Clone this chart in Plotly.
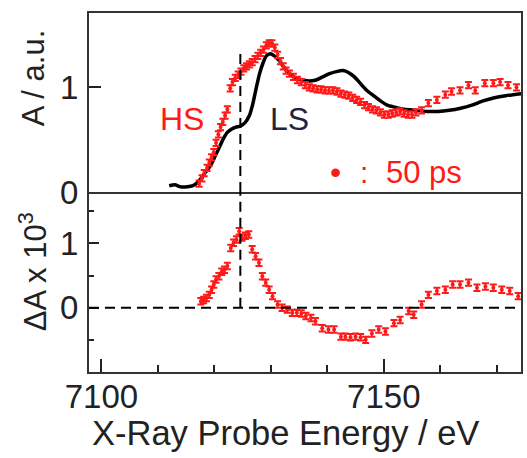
import plotly.graph_objects as go

# ---- LS reference spectrum (solid black line, top panel) ----
ls_energy = [7112.0, 7113.0, 7114.0, 7115.2, 7116.2, 7117.0, 7117.8, 7118.6, 7119.4,
             7120.2, 7120.9, 7121.6, 7122.3, 7123.0, 7123.8, 7124.6, 7125.4, 7126.2,
             7126.8, 7127.4, 7128.0, 7128.6, 7129.2, 7129.9, 7130.6, 7131.4, 7132.2,
             7133.2, 7134.4, 7135.6, 7136.8, 7138.0, 7139.2, 7140.4, 7141.6, 7142.8,
             7143.8, 7144.8, 7145.8, 7147.0, 7148.2, 7149.4, 7150.6, 7152.0, 7153.6,
             7155.6, 7157.6, 7159.6, 7161.6, 7163.6, 7165.6, 7167.6, 7169.6, 7171.6,
             7174.4]
ls_abs = [0.06, 0.07, 0.05, 0.05, 0.06, 0.09, 0.14, 0.20, 0.26,
          0.35, 0.43, 0.51, 0.57, 0.60, 0.62, 0.63, 0.66, 0.73,
          0.84, 0.99, 1.13, 1.23, 1.30, 1.32, 1.30, 1.26, 1.20,
          1.14, 1.09, 1.07, 1.06, 1.07, 1.10, 1.13, 1.15, 1.16,
          1.14, 1.10, 1.04, 0.97, 0.92, 0.87, 0.83, 0.81, 0.79,
          0.78, 0.77, 0.77, 0.78, 0.80, 0.83, 0.87, 0.90, 0.92,
          0.94]

# ---- transient spectrum at 50 ps (red points, top panel) ----
hs_energy = [7117.3, 7117.8, 7118.2, 7118.7, 7119.1, 7119.5, 7119.9, 7120.3, 7120.7,
             7121.1, 7121.5, 7121.9, 7122.3, 7122.8, 7123.2, 7123.7, 7124.2, 7124.7,
             7125.2, 7125.7, 7126.2, 7126.7, 7127.2, 7127.7, 7128.2, 7128.7, 7129.2,
             7129.7, 7130.2, 7130.7, 7131.2, 7131.7, 7132.2, 7132.7, 7133.3, 7134.0,
             7134.7, 7135.4, 7136.1, 7136.8, 7137.5, 7138.2, 7138.9, 7139.6, 7140.3,
             7141.0, 7141.7, 7142.4, 7143.1, 7143.8, 7144.5, 7145.2, 7145.9, 7146.6,
             7147.3, 7148.0, 7148.7, 7149.4, 7150.1, 7150.8, 7151.5, 7152.2, 7152.9,
             7153.6, 7154.3, 7155.0, 7155.7, 7156.7, 7157.9, 7159.4, 7160.9, 7162.0,
             7163.5, 7165.0, 7166.2, 7167.9, 7169.4, 7170.6, 7172.0, 7173.5]
hs_abs = [0.08, 0.13, 0.18, 0.23, 0.28, 0.33, 0.38, 0.47, 0.55,
          0.62, 0.67, 0.73, 0.79, 0.99, 1.05, 1.09, 1.12, 1.15,
          1.18, 1.20, 1.22, 1.24, 1.27, 1.30, 1.33, 1.36, 1.40,
          1.42, 1.42, 1.38, 1.31, 1.25, 1.20, 1.16, 1.13, 1.10,
          1.07, 1.05, 1.02, 1.00, 0.99, 0.98, 0.98, 0.97, 0.97,
          0.97, 0.96, 0.94, 0.93, 0.92, 0.90, 0.88, 0.86, 0.83,
          0.81, 0.79, 0.78, 0.76, 0.74, 0.74, 0.75, 0.76, 0.77,
          0.75, 0.74, 0.74, 0.76, 0.78, 0.85, 0.88, 0.93, 0.96,
          0.97, 1.02, 0.97, 1.04, 1.04, 1.05, 1.02, 1.00]
hs_err = 0.03

# ---- difference spectrum (red points, bottom panel, units of 1e-3) ----
diff_energy = [7117.6, 7118.1, 7118.6, 7119.1, 7119.5, 7119.9, 7120.3, 7120.8, 7121.3,
               7121.8, 7122.3, 7122.9, 7123.4, 7123.9, 7124.4, 7124.9, 7125.5, 7126.1,
               7126.7, 7127.3, 7127.9, 7128.5, 7129.1, 7129.7, 7130.3, 7131.2, 7132.0,
               7132.9, 7133.8, 7134.6, 7135.4, 7136.2, 7137.1, 7137.9, 7139.1, 7140.2,
               7141.2, 7142.4, 7143.2, 7144.1, 7145.0, 7145.9, 7146.8, 7147.9, 7149.1,
               7150.3, 7151.8, 7152.9, 7154.4, 7155.3, 7156.7, 7157.9, 7159.4, 7160.9,
               7162.2, 7163.5, 7165.0, 7166.5, 7168.0, 7169.4, 7170.9, 7172.3, 7173.8]
diff_val = [0.10, 0.12, 0.15, 0.20, 0.28, 0.36, 0.44, 0.49, 0.56,
            0.59, 0.65, 0.93, 1.01, 1.06, 1.19, 1.09, 1.12, 1.14,
            0.91, 0.80, 0.70, 0.49, 0.39, 0.28, 0.18, 0.05, 0.00,
            -0.03, -0.08, -0.08, -0.09, -0.13, -0.16, -0.21, -0.32, -0.34,
            -0.34, -0.45, -0.45, -0.46, -0.45, -0.46, -0.50, -0.40, -0.34,
            -0.37, -0.24, -0.19, -0.05, -0.11, 0.05, 0.20, 0.26, 0.28,
            0.36, 0.36, 0.39, 0.31, 0.33, 0.31, 0.28, 0.26, 0.18]
diff_err = 0.05

x_range = [7097.8, 7174.3]
top_range = [0, 1.71]
bot_range = [-1.0, 1.8]
edge_energy = 7124.6
edge_top = 1.36

RED = "#ff1a1a"
INK = "#222222"
FONT = "Liberation Sans, Arial, sans-serif"
DASH = "10px,6px"

# figure geometry (pixels)
W, H = 527, 458
ML, MR, MT, MB = 89, 4, 13, 86
PW, PH = W - ML - MR, H - MT - MB

fig = go.Figure()

fig.add_trace(go.Scatter(
    x=ls_energy, y=ls_abs, mode="lines",
    line=dict(color="black", width=3.5, shape="spline", smoothing=0.6),
    xaxis="x", yaxis="y", hoverinfo="skip"))

fig.add_trace(go.Scatter(
    x=hs_energy, y=hs_abs, mode="markers",
    marker=dict(color=RED, size=4),
    error_y=dict(type="constant", value=hs_err, color=RED, thickness=2, width=3.5),
    xaxis="x", yaxis="y"))

fig.add_trace(go.Scatter(
    x=diff_energy, y=diff_val, mode="markers",
    marker=dict(color=RED, size=4),
    error_y=dict(type="constant", value=diff_err, color=RED, thickness=2, width=3.5),
    xaxis="x2", yaxis="y2"))

axis_common = dict(showline=True, linecolor="#333333", linewidth=2,
                   showgrid=False, zeroline=False, color=INK,
                   tickfont=dict(family=FONT, size=33, color=INK))

split = 180 / PH

fig.update_layout(
    width=W, height=H,
    margin=dict(l=ML, r=MR, t=MT, b=MB),
    paper_bgcolor="white", plot_bgcolor="white",
    showlegend=False,
    font=dict(family=FONT, color=INK),
    xaxis=dict(domain=[0, 1], anchor="y", range=x_range, matches="x2", mirror=True,
               showticklabels=False, ticks="", **axis_common),
    xaxis2=dict(domain=[0, 1], anchor="y2", range=x_range, mirror=False,
                tickvals=[7100, 7150], ticks="inside", ticklen=13, tickwidth=2,
                tickcolor=INK, ticklabelstandoff=-6,
                minor=dict(tickvals=[7110, 7120, 7130, 7140, 7160, 7170],
                           ticks="inside", ticklen=7, tickwidth=2, tickcolor=INK),
                **axis_common),
    yaxis=dict(domain=[split, 1], anchor="x", range=top_range, mirror=True,
               tickvals=[0, 1], ticks="inside", ticklen=12, tickwidth=2,
               tickcolor=INK, ticklabelstandoff=2, **axis_common),
    yaxis2=dict(domain=[0, split], anchor="x2", range=bot_range, mirror=True,
                tickvals=[0, 1], ticks="inside", ticklen=10, tickwidth=2,
                tickcolor=INK, ticklabelstandoff=2,
                minor=dict(tickvals=[-0.5, 0.5, 1.5], ticks="inside",
                           ticklen=5, tickwidth=2, tickcolor=INK),
                **axis_common),
)

# zero line of the difference spectrum and the edge marker
fig.add_shape(type="line", xref="x2 domain", yref="y2", x0=0, x1=1, y0=0, y1=0,
              line=dict(color="black", width=2, dash=DASH))
fig.add_shape(type="line", xref="x2", yref="y2", x0=edge_energy, x1=edge_energy,
              y0=0, y1=bot_range[1], line=dict(color="black", width=2, dash=DASH))
fig.add_shape(type="line", xref="x", yref="y", x0=edge_energy, x1=edge_energy,
              y0=0, y1=edge_top, line=dict(color="black", width=2, dash=DASH))

# labels inside the top panel
fig.add_annotation(x=7114.3, y=0.70, xref="x", yref="y", text="HS", showarrow=False,
                   font=dict(family=FONT, size=32, color=RED))
fig.add_annotation(x=7133.3, y=0.70, xref="x", yref="y", text="LS", showarrow=False,
                   font=dict(family=FONT, size=32, color="#1c2440"))
fig.add_annotation(x=7141.5, y=0.19, xref="x", yref="y", text="•", showarrow=False,
                   font=dict(family=FONT, size=32, color=RED))
fig.add_annotation(x=7146.5, y=0.19, xref="x", yref="y", text=":", showarrow=False,
                   font=dict(family=FONT, size=30, color=RED))
fig.add_annotation(x=7157.1, y=0.19, xref="x", yref="y", text="50 ps", showarrow=False,
                   font=dict(family=FONT, size=31, color=RED))


def title(text, px, py, size, angle=0):
    """Axis title centred on a pixel position of the figure."""
    fig.add_annotation(x=(px - ML) / PW, y=(H - py - MB) / PH,
                       xref="paper", yref="paper", xanchor="center", yanchor="middle",
                       text=text, textangle=angle, showarrow=False,
                       font=dict(family=FONT, size=size, color=INK))


title("X-Ray Probe Energy / eV", 286, 433, 34.5)
title("A / a.u.", 33, 78, 31, -90)
title("ΔA x 10<sup>3</sup>", 33, 272, 31, -90)

fig.write_html("out.html")
